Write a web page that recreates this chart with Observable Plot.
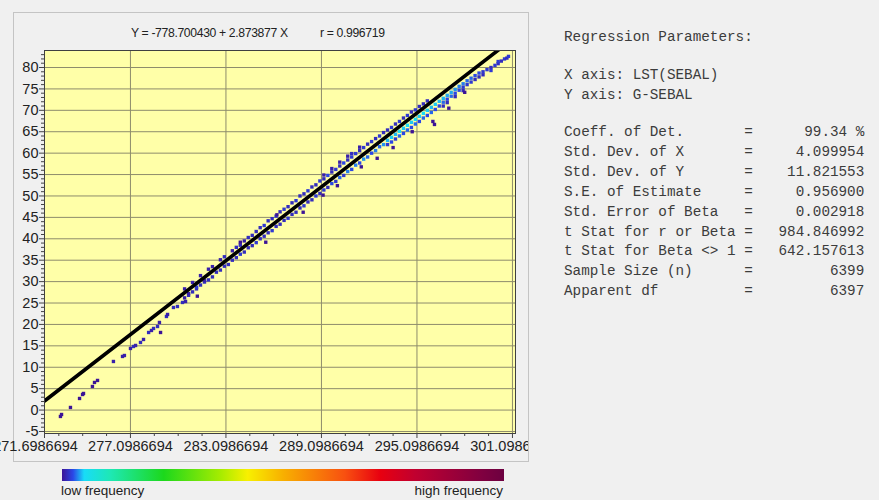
<!DOCTYPE html>
<html><head><meta charset="utf-8">
<script src="https://cdn.jsdelivr.net/npm/d3@7"></script>
<script src="https://cdn.jsdelivr.net/npm/@observablehq/plot@0.6"></script>
<style>
html,body{margin:0;padding:0;background:#f0f0f0;width:879px;height:500px;overflow:hidden;position:relative;font-family:"Liberation Sans",Arial,sans-serif;}
#panel{position:absolute;left:13px;top:12px;width:514px;height:448px;border:1px solid #c4c4c4;}
#chart{position:absolute;left:0;top:0;}
.ttl{position:absolute;top:26px;font-size:12.2px;letter-spacing:-0.35px;color:#222;white-space:pre;}
#bar{position:absolute;left:62px;top:469px;width:442px;height:12px;}
.lbl{position:absolute;top:483px;font-size:13.5px;color:#222;white-space:pre;}
pre{position:absolute;left:564px;margin:0;font-family:"Liberation Mono","DejaVu Sans Mono",monospace;font-size:14.3px;line-height:19.9px;color:#3c3c3c;}
</style></head><body>
<div id="panel"></div>
<div class="ttl" id="eq" style="left:131px"></div>
<div class="ttl" id="rr" style="left:320px"></div>
<div id="chart"></div>
<div id="bar"></div>
<div class="lbl" id="lowLbl" style="left:61px"></div>
<div class="lbl" id="highLbl" style="right:376px"></div>
<pre id="hdr" style="top:28px"></pre>
<pre id="axes" style="top:66px"></pre>
<pre id="stats" style="top:123px"></pre>
<script>
// ---------- regression parameters ----------
const intercept = -778.700430;
const slope = 2.873877;
const rValue = 0.996719;
const xAxisName = "LST(SEBAL)";
const yAxisName = "G-SEBAL";
const statLabels = ["Coeff. of Det.", "Std. Dev. of X", "Std. Dev. of Y", "S.E. of Estimate",
  "Std. Error of Beta", "t Stat for r or Beta", "t Stat for Beta <> 1", "Sample Size (n)", "Apparent df"];
const statValues = ["99.34 %", "4.099954", "11.821553", "0.956900", "0.002918",
  "984.846992", "642.157613", "6399", "6397"];

// ---------- axes ----------
const xTickValues = [271.6986694, 277.0986694, 283.0986694, 289.0986694, 295.0986694, 301.0986694];
const xTickLabels = ["271.6986694", "277.0986694", "283.0986694", "289.0986694", "295.0986694", "301.0986694"];
const xMinorTicks = [272.5986694, 274.0986694, 275.5986694, 278.5986694, 280.0986694, 281.5986694,
  284.5986694, 286.0986694, 287.5986694, 290.5986694, 292.0986694, 293.5986694,
  296.5986694, 298.0986694, 299.5986694];
const yTickValues = [-5, 0, 5, 10, 15, 20, 25, 30, 35, 40, 45, 50, 55, 60, 65, 70, 75, 80];
const yTickLabels = ["-5", "0", "5", "10", "15", "20", "25", "30", "35", "40", "45", "50", "55", "60", "65", "70", "75", "80"];
const xDomain = [271.6986694, 301.29];
const yDomain = [-5.47, 83.97];

// ---------- frequency colour ramp ----------
const rampStops = [0, 0.025, 0.05, 0.11, 0.23, 0.36, 0.42, 0.5, 0.64, 0.72, 0.8, 0.95, 1];
const rampColors = ["#3c1496", "#2a48e8", "#18dcf8", "#1ee8b4", "#1cd81c", "#a8ec00", "#f8f000",
  "#f8b000", "#f85010", "#e80010", "#c00030", "#800040", "#6c0040"];

// ---------- scatter samples [LST, G, relative frequency] ----------
const lowTail = [
  [272.70,-1.49,0],[272.77,-1.03,0],[273.33,0.61,0],[273.90,2.71,0],[274.09,3.64,0],[274.15,3.88,0],
  [274.71,5.51,0],[274.84,6.45,0],[275.03,6.92,0],[276.03,11.35,.006],[276.60,12.52,.006],[276.72,12.75,.006],
  [277.10,14.39,.006],[277.29,14.85,.012],[277.42,15.09,.006],[277.73,15.79,.012],[277.92,16.49,.006],
  [278.24,18.12,.012],[278.42,18.59,.006],[278.55,19.06,.012],[278.80,19.52,.012],[278.92,20.46,.006],
  [278.99,18.12,0],[279.36,21.86,.012],[279.43,22.33,.006],[279.80,23.96,.012],[280.05,24.19,.012],
  [280.37,25.13,.012],[280.56,25.36,.006]
];
const bandA = [
  [280.5,26.2,.006],[280.5,28.3,.006],[280.75,26.8,.012],[280.75,27.2,.006],[281.0,27.6,.012],[281.0,29.8,.006],
  [281.25,28.3,.012],[281.25,28.7,.018],[281.5,29.2,.012],[281.5,31.4,.006],[281.75,29.9,.012],[281.75,30.3,.006],
  [282.0,30.4,.012],[282.0,32.9,.006]
];
const bandB = [
  [282.25,31.1,.012],[282.25,33.5,.006],[282.5,32.2,.012],[282.75,32.7,.012],[282.75,35.1,.006],
  [283.0,33.6,.012],[283.0,35.8,.012],[283.25,34.0,.012],[283.5,35.0,.012],[283.5,37.2,.006],
  [283.75,35.6,.012],[283.75,38.0,.012],[284.0,36.4,.018],[284.0,38.5,.012],[284.25,36.9,.012],
  [284.25,39.5,.006],[284.5,37.9,.012],[284.5,40.3,.012],[284.75,38.4,.012],[284.75,40.8,.012],
  [285.0,39.1,.018],[285.0,41.7,.012]
];
const bandC = [
  [285.25,40.0,.012],[285.25,42.6,.012],[285.5,40.6,.012],[285.5,43.1,.018],[285.75,41.4,.012],[285.75,44.2,.012],
  [286.0,41.9,.018],[286.0,44.7,.012],[286.25,42.9,.012],[286.25,45.3,.018],[286.5,43.4,.012],[286.5,46.3,.012],
  [286.75,44.3,.012],[286.75,46.9,.018],[287.0,44.8,.018],[287.0,47.5,.012],[287.25,45.7,.012],[287.25,48.4,.012],
  [287.5,46.2,.012],[287.5,48.9,.018],[287.75,47.2,.012],[287.75,50.0,.012],[288.0,47.7,.018],[288.0,50.5,.012],
  [288.25,48.6,.012],[288.25,51.2,.018],[288.5,49.1,.012],[288.5,52.1,.012],[288.75,50.0,.018],[288.75,52.6,.012],
  [289.0,50.6,.012],[289.0,53.5,.018]
];
const bandD = [
  [289.25,51.4,.018],[289.25,54.0,.012],[289.25,54.9,.006],[289.5,52.0,.012],[289.5,54.8,.024],
  [289.75,52.9,.024],[289.75,55.6,.012],[289.75,56.4,.006],[290.0,53.4,.018],[290.0,56.2,.018],
  [290.25,54.3,.03],[290.25,57.0,.012],[290.25,57.9,.006],[290.5,54.8,.018],[290.5,57.7,.024],
  [290.75,55.7,.034],[290.75,58.4,.012],[290.75,59.3,.006],[291.0,56.2,.024],[291.0,59.1,.018],[291.0,59.9,.012],
  [291.25,57.2,.034],[291.25,59.9,.018],[291.5,57.7,.024],[291.5,60.6,.012],[291.5,61.4,.006],
  [291.75,58.6,.038],[291.75,61.3,.018],[292.0,59.1,.03],[292.0,62.1,.012],[292.25,60.0,.024],[292.25,62.7,.018],
  [292.5,60.6,.034],[292.5,63.4,.012],[292.75,61.5,.03],[292.75,64.0,.018],[293.0,62.0,.038],[293.0,64.8,.012]
];
const bandE = [
  [293.25,63.0,.044],[293.25,62.0,.018],[293.25,65.4,.012],[293.5,63.7,.047],[293.5,62.6,.024],[293.5,66.0,.018],
  [293.75,64.4,.044],[293.75,63.3,.018],[293.75,66.8,.012],[294.0,65.1,.05],[294.0,64.0,.03],[294.0,67.4,.018],
  [294.25,65.8,.047],[294.25,64.6,.024],[294.25,68.2,.012],[294.5,66.5,.05],[294.5,65.4,.03],[294.5,68.8,.018],
  [294.75,67.2,.047],[294.75,66.0,.024],[294.75,69.6,.012],[295.0,67.9,.05],[295.0,66.8,.03],[295.0,70.1,.018],
  [295.25,68.6,.047],[295.25,67.4,.024],[295.25,70.9,.012],[295.5,69.3,.05],[295.5,68.2,.03],[295.5,71.5,.012],
  [295.75,70.0,.047],[295.75,68.8,.024],[295.75,72.2,.012],[296.0,70.7,.044],[296.0,69.5,.03],
  [296.25,71.4,.047],[296.25,70.2,.024],[296.5,72.1,.044],[296.5,71.0,.024]
];
const bandF = [
  [296.75,72.8,.044],[296.75,71.9,.03],[296.75,71.0,.012],[297.0,73.5,.041],[297.0,72.6,.024],[297.0,71.8,.012],
  [297.25,74.2,.041],[297.25,73.3,.03],[297.5,74.9,.038],[297.5,74.0,.024],[297.5,73.2,.012],
  [297.75,75.6,.034],[297.75,74.7,.024],[298.0,76.2,.034],[298.0,75.4,.018],[298.0,74.6,.012],
  [298.25,76.9,.03],[298.25,76.0,.018],[298.5,77.5,.03],[298.5,76.6,.018],[298.75,78.1,.024],[298.75,77.2,.012],
  [299.0,78.7,.024],[299.0,77.8,.012]
];
const bandG = [
  [299.25,79.0,.018],[299.25,78.3,.012],[299.5,79.5,.018],[299.75,80.0,.012],[299.75,79.3,.018],
  [300.0,80.5,.018],[300.2,80.9,.012],[300.2,81.4,.018],[300.4,81.5,.012],[300.6,82.0,.018],
  [300.75,82.2,.012],[300.85,82.6,.018]
];
const outliers = [
  [281.3,26.6,0],[284.0,39.2,0],[285.6,39.2,0],[286.3,45.6,0],[287.95,46.2,0],[289.2,50.2,0],[290.1,52.4,0],
  [291.6,56.8,0],[292.6,58.8,0],[293.6,61.3,0],[294.8,65.0,0],[296.1,67.4,0],[296.2,66.7,0],[297.1,70.5,0],[298.1,74.2,0]
];

const samples = [...lowTail, ...bandA, ...bandB, ...bandC, ...bandD, ...bandE, ...bandF, ...bandG, ...outliers]
  .map(([x, y, f]) => ({x, y, f}));
const fitLine = xDomain.map(x => ({x, y: intercept + slope * x}));

const grid = "#8e8c6c";
const chart = Plot.plot({
  width: 528, height: 461,
  marginLeft: 44, marginRight: 13, marginTop: 50, marginBottom: 28,
  style: {background: "transparent", fontFamily: "'Liberation Sans', Arial, sans-serif", fontSize: "14.5px", color: "#222", overflow: "hidden"},
  x: {domain: xDomain, axis: null},
  y: {domain: yDomain, axis: null},
  color: {type: "linear", domain: rampStops, range: rampColors, clamp: true},
  marks: [
    Plot.frame({fill: "#ffffa8", stroke: null}),
    Plot.gridX(xTickValues.slice(1), {stroke: grid, strokeOpacity: 1}),
    Plot.gridY(yTickValues, {stroke: grid, strokeOpacity: 1}),
    Plot.dot(samples, {x: "x", y: "y", fill: "f", symbol: "square", r: 1.9, stroke: null}),
    Plot.line(fitLine, {x: "x", y: "y", stroke: "#000", strokeWidth: 3.6, clip: true}),
    Plot.frame({stroke: "#404040"}),
    Plot.axisX(xTickValues, {tickSize: 5, tickPadding: 2, label: null, stroke: "#444",
      tickFormat: d => xTickLabels[xTickValues.indexOf(d)]}),
    Plot.axisX(xMinorTicks, {tickSize: 3, label: null, stroke: "#444", tickFormat: () => ""}),
    Plot.axisY(yTickValues, {tickSize: 5, tickPadding: 1, label: null, stroke: "#444",
      tickFormat: d => yTickLabels[yTickValues.indexOf(d)]}),
    Plot.axisY(d3.range(-5, 84).filter(v => v % 5 !== 0), {tickSize: 3, label: null, stroke: "#444", tickFormat: () => ""})
  ]
});
// the left-most tick label sits slightly left of its tick in the original, so the window edge cuts it
const xLabelTexts = chart.querySelectorAll("g[aria-label='x-axis tick label'] text");
if (xLabelTexts.length) {
  const t = xLabelTexts[0];
  const tr = t.getAttribute("transform") || "";
  t.setAttribute("transform", tr + " translate(-9,0)");
}
document.getElementById("chart").appendChild(chart);

document.getElementById("eq").textContent = `Y = ${intercept.toFixed(6)} + ${slope.toFixed(6)} X`;
document.getElementById("rr").textContent = `r = ${rValue.toFixed(6)}`;
document.getElementById("bar").style.background =
  `linear-gradient(to right, ${rampColors.map((c, i) => `${c} ${rampStops[i] * 100}%`).join(", ")})`;
document.getElementById("lowLbl").textContent = "low frequency";
document.getElementById("highLbl").textContent = "high frequency";
document.getElementById("hdr").textContent = "Regression Parameters:";
document.getElementById("axes").textContent = `X axis: ${xAxisName}\nY axis: ${yAxisName}`;
document.getElementById("stats").textContent =
  statLabels.map((l, i) => l.padEnd(21) + "= " + statValues[i].padStart(12)).join("\n");
</script>
</body></html>
